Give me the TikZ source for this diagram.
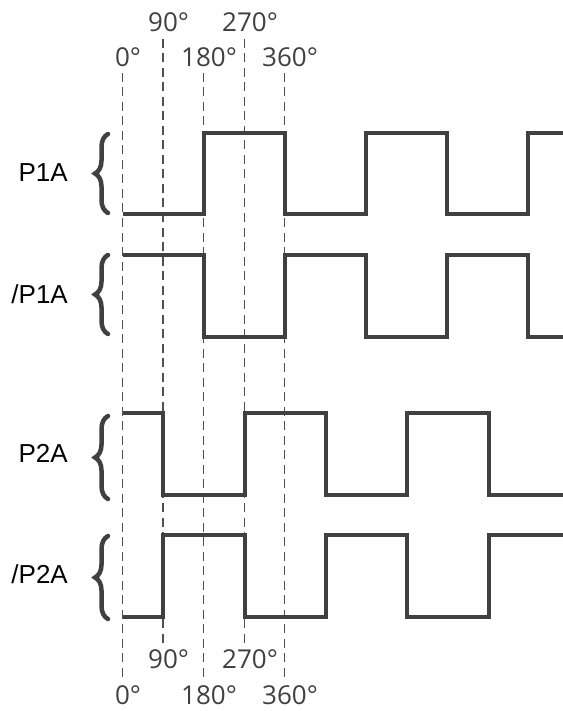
\documentclass[tikz,border=0pt]{standalone}
\usepackage{fontspec}
\setmainfont{Liberation Sans}
\newfontfamily\degfont{Open Sans}
\usetikzlibrary{decorations.pathreplacing}
\definecolor{sig}{HTML}{404040}
\definecolor{guidecol}{HTML}{505050}
\begin{document}
\begin{tikzpicture}[x=1pt,y=-1pt,
  signal/.style={draw=sig,line width=4pt,line join=miter},
  guide/.style={draw=guidecol,line width=1.7pt,dash pattern=on 9pt off 5.5pt},
  deg/.style={font=\degfont\fontsize{26}{26}\selectfont,text=sig,anchor=base,inner sep=0pt},
  siglabel/.style={font=\fontsize{26}{26}\selectfont,text=black,anchor=base east,inner sep=0pt},
  curly/.style={draw=sig,line width=4.5pt,line cap=round,decorate,decoration={brace,amplitude=13pt}}]
\useasboundingbox (0,0) rectangle (562,711);

% guide line end points
\coordinate (g0a) at (122.5,73);   \coordinate (g0b) at (122.5,679);
\coordinate (g90a) at (163,39);    \coordinate (g90b) at (163,643);
\coordinate (g180a) at (203.5,73); \coordinate (g180b) at (203.5,679);
\coordinate (g270a) at (244.5,39); \coordinate (g270b) at (244.5,643);
\coordinate (g360a) at (284.5,73); \coordinate (g360b) at (284.5,679);

\draw[guide] (g0a) -- (g0b);
\draw[guide] (g90a) -- (g90b);
\draw[guide] (g180a) -- (g180b);
\draw[guide] (g270a) -- (g270b);
\draw[guide] (g360a) -- (g360b);

% degree labels top
\node[deg] (t0) at (122.5,67) {0\rlap{°}};
\node[deg] (t90) at (163,32) {90\rlap{°}};
\node[deg] (t180) at (203.5,67) {180\rlap{°}};
\node[deg] (t270) at (244.5,32) {270\rlap{°}};
\node[deg] (t360) at (284.5,67) {360\rlap{°}};
% degree labels bottom
\node[deg] (b90) at (163,668) {90\rlap{°}};
\node[deg] (b270) at (244.5,668) {270\rlap{°}};
\node[deg] (b0) at (122.5,704) {0\rlap{°}};
\node[deg] (b180) at (203.5,704) {180\rlap{°}};
\node[deg] (b360) at (284.5,704) {360\rlap{°}};

% signals
\draw[signal] (122.5,214) -- (203.5,214) -- (203.5,133) -- (284.5,133) -- (284.5,214) -- (366,214) -- (366,133) -- (447,133) -- (447,214) -- (528,214) -- (528,133) -- (566,133);
\draw[signal] (122.5,255) -- (203.5,255) -- (203.5,337) -- (284.5,337) -- (284.5,255) -- (366,255) -- (366,337) -- (447,337) -- (447,255) -- (528,255) -- (528,337) -- (566,337);
\draw[signal] (122.5,413) -- (163,413) -- (163,495) -- (244.5,495) -- (244.5,413) -- (326,413) -- (326,495) -- (407,495) -- (407,413) -- (489,413) -- (489,495) -- (566,495);
\draw[signal] (122.5,617) -- (163,617) -- (163,535) -- (244.5,535) -- (244.5,617) -- (326,617) -- (326,535) -- (407,535) -- (407,617) -- (489,617) -- (489,535) -- (566,535);

% signal labels
\node[siglabel] (p1a) at (68,182) {P1A};
\node[siglabel] (np1a) at (68,303) {/P1A};
\node[siglabel] (p2a) at (68,462) {P2A};
\node[siglabel] (np2a) at (68,583) {/P2A};

% braces
\coordinate (br1a) at (108,213); \coordinate (br1b) at (108,134);
\coordinate (br2a) at (108,334); \coordinate (br2b) at (108,255);
\coordinate (br3a) at (108,499); \coordinate (br3b) at (108,416);
\coordinate (br4a) at (108,619); \coordinate (br4b) at (108,536);
\draw[curly] (br1a) -- (br1b);
\draw[curly] (br2a) -- (br2b);
\draw[curly] (br3a) -- (br3b);
\draw[curly] (br4a) -- (br4b);
\end{tikzpicture}
\end{document}
